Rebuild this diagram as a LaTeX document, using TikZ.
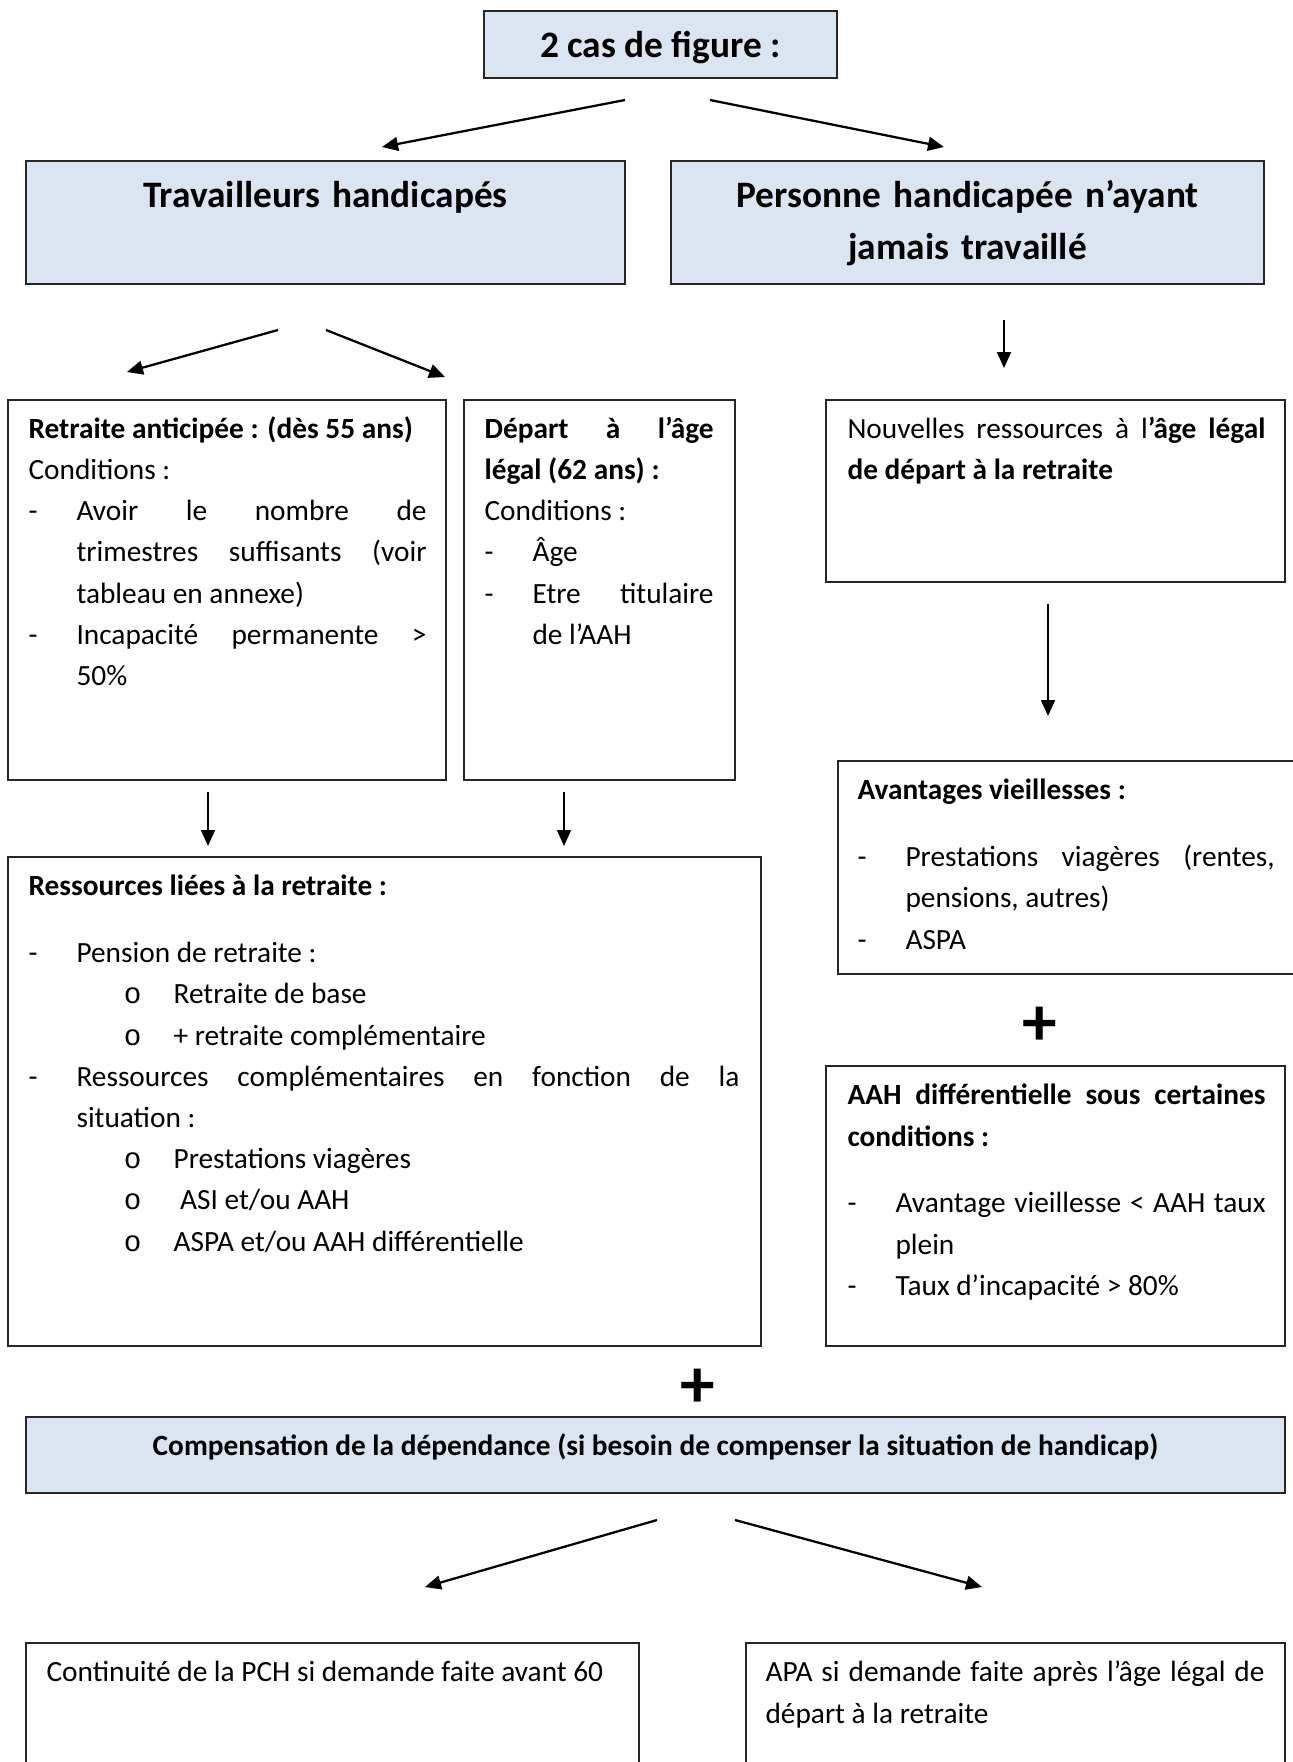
\documentclass[tikz,border=0pt]{standalone}
\usepackage{fontspec}
\setmainfont{Carlito}
\newfontfamily\bulletfont{Liberation Mono}
\usepackage{tikz}
\usetikzlibrary{arrows.meta,fit}
\definecolor{headblue}{HTML}{DBE5F1}
\definecolor{edgegray}{HTML}{262626}
\setlength{\parindent}{0pt}
\newcommand\dashitem{\par\hangindent=18pt\hangafter=1\noindent\makebox[18pt][l]{-}}
\newcommand\circitem{\par\noindent\hspace*{35.8pt}\makebox[18.6pt][l]{\bulletfont o}}
\newcommand\gapline{\par\vspace{9.6pt}}

\begin{document}
\begin{tikzpicture}[x=0.375pt,y=-0.375pt,>={Triangle[length=6pt,width=5.2pt]},
  box/.style={draw=edgegray,line width=0.7pt,inner sep=0pt},
  headbox/.style={box,fill=headblue},
  txt/.style={anchor=north west,inner sep=0pt,align=justify,
    font=\fontsize{11}{15.45}\selectfont,execute at begin node=\strut},
  headtxt/.style={anchor=north,inner sep=0pt,align=center,text width=215pt,
    font=\fontsize{14}{19.7}\selectfont\bfseries,execute at begin node=\strut},
  arr/.style={->,line width=0.85pt},
  plus/.style={inner sep=0pt,font=\fontsize{26}{30}\selectfont\bfseries}]
  \useasboundingbox (0,0) rectangle (1293,1762);

  % boxes
  \node[headbox,fit={(484,11) (837,78)}] (top) {};
  \node[headbox,fit={(26,161) (625,284)}] (trav) {};
  \node[headbox,fit={(671,161) (1264,284)}] (pers) {};
  \node[box,fit={(8,400) (446,780)}] (ret) {};
  \node[box,fit={(464,400) (735,780)}] (dep) {};
  \node[box,fit={(826,400) (1285,582)}] (nouv) {};
  \node[box,fit={(838,761) (1320,974)}] (avan) {};
  \node[box,fit={(8,857) (761,1346)}] (res) {};
  \node[box,fit={(826,1066) (1285,1346)}] (aah) {};
  \node[headbox,fit={(26,1417) (1285,1493)}] (comp) {};
  \node[box,fit={(26,1643) (639,1780)}] (pch) {};
  \node[box,fit={(746,1643) (1285,1780)}] (apa) {};

  % texts
  \node[inner sep=0pt,anchor=base,font=\fontsize{14}{17}\selectfont\bfseries]
    (toptxt) at (660.5,58) {2 cas de figure :};
  \node[headtxt] (travtxt) at (325.5,170) {Travailleurs handicapés};
  \node[headtxt] (perstxt) at (967.5,170) {Personne handicapée n’ayant\\jamais travaillé};
  \node[txt,text width=149.25pt] (rettxt) at (28,409) {\textbf{Retraite anticipée : (dès 55 ans)}\par
    Conditions :
    \dashitem Avoir le nombre de\linebreak trimestres suffisants (voir\linebreak tableau en annexe)
    \dashitem Incapacité permanente >\linebreak 50\%\par};
  \node[txt,text width=85.9pt] (deptxt) at (484,409) {\textbf{Départ à l’âge\linebreak légal (62 ans) :}\par
    Conditions :
    \dashitem Âge
    \dashitem Etre titulaire\linebreak de l’AAH\par};
  \node[txt,text width=156.75pt] (nouvtxt) at (847,409)
    {Nouvelles ressources à l\textbf{’âge légal\linebreak de départ à la retraite}\par};
  \node[txt,text width=156.4pt] (avantxt) at (857,770.6) {\textbf{Avantages vieillesses :}\gapline
    \dashitem Prestations viagères (rentes,\linebreak pensions, autres)
    \dashitem ASPA\par};
  \node[txt,text width=266.6pt] (restxt) at (28,866.6) {\textbf{Ressources liées à la retraite :}\gapline
    \dashitem Pension de retraite :
    \circitem Retraite de base
    \circitem + retraite complémentaire
    \dashitem Ressources complémentaires en fonction de la\linebreak situation :
    \circitem Prestations viagères
    \circitem\ ASI et/ou AAH
    \circitem ASPA et/ou AAH différentielle\par};
  \node[txt,text width=156.75pt] (aahtxt) at (847,1075.6) {\textbf{AAH différentielle sous certaines\linebreak conditions :}\gapline
    \dashitem Avantage vieillesse < AAH taux\linebreak plein
    \dashitem Taux d’incapacité > 80\%\par};
  \node[inner sep=0pt,anchor=base,font=\fontsize{11}{15.45}\selectfont\bfseries]
    (comptxt) at (655.5,1455.5) {Compensation de la dépendance (si besoin de compenser la situation de handicap)};
  \node[inner sep=0pt,anchor=base west,font=\fontsize{11}{15.45}\selectfont]
    (pchtxt) at (46,1681.5) {Continuité de la PCH si demande faite avant 60};
  \node[txt,text width=187.1pt] (apatxt) at (765,1652.6) {APA si demande faite après l’âge légal de\linebreak départ à la retraite\par};

  \node[plus] (plusA) at (1039.5,1026) {+};
  \node[plus] (plusB) at (697.5,1388) {+};

  % arrow ends
  \coordinate (topL) at (625,100);   \coordinate (travIn) at (382,147);
  \coordinate (topR) at (710,100);   \coordinate (persIn) at (944,147);
  \coordinate (travL) at (278,330);  \coordinate (retIn) at (127,372);
  \coordinate (travR) at (326,330);  \coordinate (depIn) at (445,377);
  \coordinate (persD) at (1004,320); \coordinate (nouvIn) at (1004,368);
  \coordinate (nouvD) at (1048,604); \coordinate (avanIn) at (1048,716);
  \coordinate (retD) at (208,792);   \coordinate (resInL) at (208,846);
  \coordinate (depD) at (564,792);   \coordinate (resInR) at (564,846);
  \coordinate (compL) at (657,1520); \coordinate (pchIn) at (425,1587);
  \coordinate (compR) at (735,1520); \coordinate (apaIn) at (982,1587);

  \draw[arr] (topL) -- (travIn);
  \draw[arr] (topR) -- (persIn);
  \draw[arr] (travL) -- (retIn);
  \draw[arr] (travR) -- (depIn);
  \draw[arr] (persD) -- (nouvIn);
  \draw[arr] (nouvD) -- (avanIn);
  \draw[arr] (retD) -- (resInL);
  \draw[arr] (depD) -- (resInR);
  \draw[arr] (compL) -- (pchIn);
  \draw[arr] (compR) -- (apaIn);
\end{tikzpicture}
\end{document}
